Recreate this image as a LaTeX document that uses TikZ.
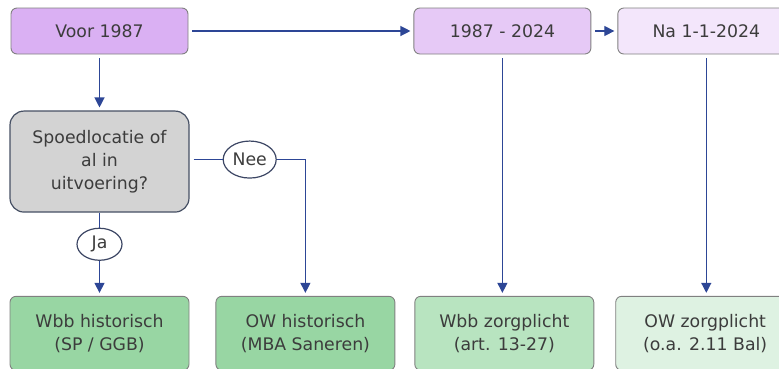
\documentclass[tikz,border=0pt]{standalone}
\usepackage{fontspec}
\setmainfont{DejaVu Sans}
\usetikzlibrary{positioning}
\usetikzlibrary{arrows.meta}
\usetikzlibrary{shapes.geometric}

\definecolor{tekst}{RGB}{60,60,60}
\definecolor{rand}{RGB}{128,128,128}
\definecolor{lijn}{RGB}{45,70,150}
\definecolor{ovaal}{RGB}{60,70,100}
\definecolor{paars1}{RGB}{218,176,243}
\definecolor{paars2}{RGB}{230,201,246}
\definecolor{paars3}{RGB}{243,230,251}
\definecolor{grijs}{RGB}{211,211,211}
\definecolor{vraagrand}{RGB}{70,80,100}
\definecolor{groen1}{RGB}{152,214,163}
\definecolor{groen2}{RGB}{184,228,192}
\definecolor{groen3}{RGB}{222,242,226}

\begin{document}
\begin{tikzpicture}
	[font=\fontsize{17.3}{23}\selectfont, text=tekst,
	box/.style = {draw=rand, line width=0.9pt, rounded corners=6pt, align=center, inner sep=0pt},
	top/.style = {box, minimum width=177pt, minimum height=46pt},
	bottom/.style = {box, minimum width=179pt, minimum height=74pt},
	vraag/.style = {box, draw=vraagrand, line width=1.2pt, rounded corners=14pt, fill=grijs, minimum width=179pt, minimum height=101pt},
	keuze/.style = {draw=ovaal, line width=1.2pt, ellipse, inner sep=0pt},
	pijl/.style = {draw=lijn, line width=1.2pt, -{Triangle[length=10pt,width=10pt]}, shorten <=4pt, shorten >=3pt},
	lijntje/.style = {draw=lijn, line width=1.2pt}]
	\useasboundingbox (0,0) rectangle (779pt,-368pt);
	\node[top, fill=paars1] (voor) at (99.5pt,-31pt) {Voor 1987};
	\node[top, fill=paars2] (tussen) [right=225pt of voor] {1987 - 2024};
	\node[top, fill=paars3] (na) [right=26pt of tussen] {Na 1-1-2024};
	\node[vraag] (spoed) [below=56pt of voor] {Spoedlocatie of\\al in\\uitvoering?};
	\node[keuze, minimum width=45pt, minimum height=32pt] (ja) [below=15pt of spoed] {Ja};
	\node[keuze, minimum width=53pt, minimum height=37pt] (nee) [right=33pt of spoed, yshift=2pt] {Nee};
	\node[bottom, fill=groen1] (wbbhist) [below=35pt of ja] {Wbb historisch\\(SP / GGB)};
	\node[bottom, fill=groen1] (owhist) [right=26pt of wbbhist] {OW historisch\\(MBA Saneren)};
	\node[bottom, fill=groen2] (wbbzorg) [right=19pt of owhist] {Wbb zorgplicht\\(art. 13-27)};
	\node[bottom, fill=groen3] (owzorg) [right=21pt of wbbzorg] {OW zorgplicht\\(o.a. 2.11 Bal)};
	\draw[pijl] (voor) -- (tussen);
	\draw[pijl] (tussen) -- (na);
	\draw[pijl] (voor) -- (spoed);
	\draw[pijl] (tussen) -- (tussen |- wbbzorg.north);
	\draw[pijl] (na) -- (na |- owzorg.north);
	\draw[lijntje, shorten <=4pt] (spoed.east |- nee) -- (nee);
	\draw[pijl, shorten <=0pt] (nee.east) -| (owhist.north);
	\draw[lijntje] (spoed) -- (ja);
	\draw[pijl, shorten <=0pt] (ja) -- (wbbhist);
\end{tikzpicture}
\end{document}
